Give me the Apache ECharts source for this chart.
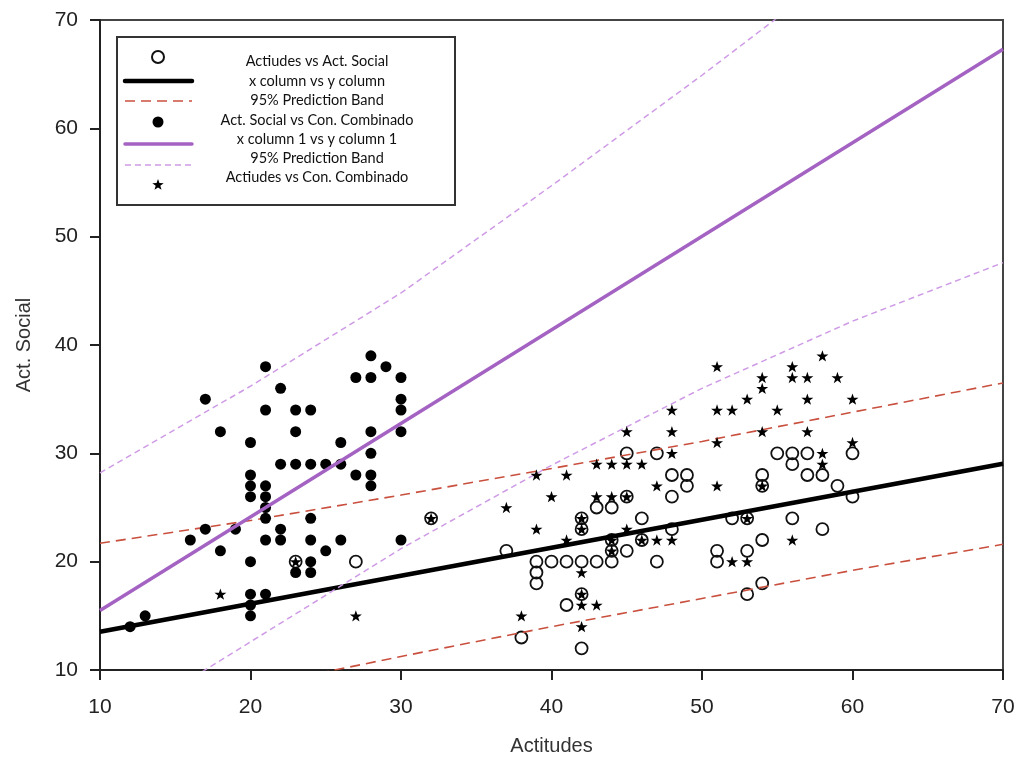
<!DOCTYPE html>
<html>
<head>
<meta charset="utf-8">
<script src="https://cdn.jsdelivr.net/npm/echarts@6/dist/echarts.min.js"></script>
<style>
html,body{margin:0;padding:0;background:#fff;}
#chart{width:1021px;height:761px;}
</style>
</head>
<body>
<div id="chart"></div>
<script>
// ---------- DATA ----------
const xTicks = [10, 20, 30, 40, 50, 60, 70];
const yTicks = [10, 20, 30, 40, 50, 60, 70];

// Actiudes vs Act. Social (open circles)
const openX = [23,27,32,37,38,39,39,39,40,41,41,42,42,42,42,42,43,43,44,44,44,44,45,45,45,46,46,47,47,48,48,48,49,49,51,51,52,53,53,53,54,54,54,54,55,56,56,56,57,57,58,58,59,60,60];
const openY = [20,20,24,21,13,20,19,18,20,20,16,24,23,20,17,12,25,20,25,22,21,20,30,26,21,24,22,30,20,28,26,23,28,27,21,20,24,24,21,17,28,27,22,18,30,30,29,24,30,28,28,23,27,30,26];

// Act. Social vs Con. Combinado (filled circles)
const dotX = [12,13,16,17,17,18,18,19,20,20,20,20,20,20,20,20,21,21,21,21,21,21,21,21,22,22,22,22,23,23,23,23,24,24,24,24,24,24,25,25,26,26,26,27,27,28,28,28,28,28,28,29,30,30,30,30,30];
const dotY = [14,15,22,35,23,32,21,23,31,28,27,26,20,17,16,15,38,34,27,26,25,24,22,17,36,29,23,22,34,32,29,19,34,29,24,22,20,19,29,21,31,29,22,37,28,39,37,32,30,28,27,38,37,35,34,32,22];

// Actiudes vs Con. Combinado (stars)
const starX = [18,27,23,32,37,38,39,39,40,41,41,42,42,42,42,42,42,43,43,43,44,44,44,44,45,45,45,45,46,46,47,47,48,48,48,48,51,51,51,51,52,52,53,53,53,54,54,54,54,55,56,56,56,57,57,57,58,58,58,59,60,60];
const starY = [17,15,20,24,25,15,28,23,26,28,22,24,23,19,17,16,14,29,26,16,29,26,22,21,32,29,26,23,29,22,27,22,34,32,30,22,38,34,31,27,34,20,35,24,20,37,36,32,27,34,38,37,22,37,35,32,39,30,29,37,35,31];

// x column vs y column (regression) and its 95% prediction band
const reg1X = [10, 70];
const reg1Y = [13.53, 29.04];
const bandX = [10, 20, 30, 40, 50, 60, 70];
const redUpper = [21.7, 23.8, 26.15, 28.6, 31.1, 33.8, 36.5];
const redLower = [5.3, 8.4, 11.25, 14.0, 16.6, 19.2, 21.6];

// x column 1 vs y column 1 (regression) and its 95% prediction band
const reg2X = [10, 70];
const reg2Y = [15.5, 67.3];
const purpleUpper = [28.2, 36.2, 44.8, 54.7, 64.9, 75.5, 86.2];
const purpleLower = [4.0, 12.6, 21.2, 28.9, 36.0, 42.2, 47.6];

const legendLabels = [
  'Actiudes vs Act. Social',
  'x column vs y column',
  '95% Prediction Band',
  'Act. Social vs Con. Combinado',
  'x column 1 vs y column 1',
  '95% Prediction Band',
  'Actiudes vs Con. Combinado'
];

// ---------- STYLES ----------
const STAR = 'path://M50,0 L61.8,35.1 L98.1,35.1 L68.8,56.8 L79.4,91.0 L50,70 L20.6,91.0 L31.2,56.8 L1.9,35.1 L38.2,35.1 Z';
const RED = '#c9503e';
const PURPLE = '#a463c2';
const PURPLE_LIGHT = '#cf9be6';
const AXIS = '#222';

const pair = (xs, ys) => xs.map((x, i) => [x, ys[i]]);

function starPoints(cx, cy, R) {
  const pts = [];
  const r = R * 0.4;
  for (let i = 0; i < 10; i++) {
    const a = -Math.PI / 2 + i * Math.PI / 5;
    const rr = i % 2 === 0 ? R : r;
    pts.push([cx + rr * Math.cos(a), cy + rr * Math.sin(a)]);
  }
  return pts;
}

const chart = echarts.init(document.getElementById('chart'));

const LX1 = 125, LX2 = 192, LCX = 158, TCX = 317;
const symRows = [57, 81, 101, 122, 144, 165, 185];
const textRows = [61, 81, 100, 120, 139, 158, 177];

const legendGraphics = [
  { type: 'rect', shape: { x: 117, y: 37, width: 338, height: 168 },
    style: { fill: '#fff', stroke: '#333', lineWidth: 2 }, z: 100 },
  { type: 'circle', shape: { cx: LCX, cy: symRows[0], r: 6 },
    style: { fill: 'none', stroke: '#111', lineWidth: 2 }, z: 101 },
  { type: 'line', shape: { x1: LX1, y1: symRows[1], x2: LX2, y2: symRows[1] },
    style: { stroke: '#000', lineWidth: 4.5, lineCap: 'round' }, z: 101 },
  { type: 'line', shape: { x1: LX1, y1: symRows[2], x2: LX2, y2: symRows[2] },
    style: { stroke: RED, lineWidth: 1.5, lineDash: [10, 6] }, z: 101 },
  { type: 'circle', shape: { cx: LCX, cy: symRows[3], r: 5.5 },
    style: { fill: '#000' }, z: 101 },
  { type: 'line', shape: { x1: LX1, y1: symRows[4], x2: LX2, y2: symRows[4] },
    style: { stroke: PURPLE, lineWidth: 3.5, lineCap: 'round' }, z: 101 },
  { type: 'line', shape: { x1: LX1, y1: symRows[5], x2: LX2, y2: symRows[5] },
    style: { stroke: PURPLE_LIGHT, lineWidth: 1.5, lineDash: [6, 4] }, z: 101 },
  { type: 'polygon', shape: { points: starPoints(LCX, symRows[6], 6) },
    style: { fill: '#000' }, z: 101 }
];
legendLabels.forEach((t, i) => {
  legendGraphics.push({
    type: 'text', x: TCX, y: textRows[i], z: 102,
    style: { text: t, fill: '#111', font: '14.5px Lato', textAlign: 'center', textVerticalAlign: 'middle' }
  });
});

const option = {
  animation: false,
  backgroundColor: '#fff',
  grid: { left: 100, right: 18, top: 20, bottom: 91, show: true, borderColor: '#444', borderWidth: 2, containLabel: false },
  xAxis: {
    type: 'value', min: xTicks[0], max: xTicks[xTicks.length - 1], interval: 10,
    name: 'Actitudes', nameLocation: 'middle', nameGap: 66,
    nameTextStyle: { fontFamily: 'Liberation Sans', fontSize: 20, color: '#333' },
    axisLine: { show: true, lineStyle: { color: AXIS, width: 2 } },
    axisTick: { show: true, length: 10, inside: false, lineStyle: { color: AXIS, width: 2 } },
    axisLabel: { margin: 27, fontFamily: 'Liberation Sans', fontSize: 21, color: '#222',
      formatter: v => (xTicks.indexOf(v) >= 0 ? String(v) : '') },
    splitLine: { show: false }
  },
  yAxis: {
    type: 'value', min: yTicks[0], max: yTicks[yTicks.length - 1], interval: 10,
    name: 'Act. Social', nameLocation: 'middle', nameGap: 66, nameRotate: 90,
    nameTextStyle: { fontFamily: 'Liberation Sans', fontSize: 20, color: '#333' },
    axisLine: { show: true, lineStyle: { color: AXIS, width: 2 } },
    axisTick: { show: true, length: 10, inside: false, lineStyle: { color: AXIS, width: 2 } },
    axisLabel: { margin: 22, fontFamily: 'Liberation Sans', fontSize: 21, color: '#222',
      formatter: v => (yTicks.indexOf(v) >= 0 ? String(v) : '') },
    splitLine: { show: false }
  },
  series: [
    { name: legendLabels[0], type: 'scatter', data: pair(openX, openY), symbol: 'circle', symbolSize: 12,
      itemStyle: { color: 'rgba(0,0,0,0)', borderColor: '#111', borderWidth: 1.8, opacity: 1 }, z: 2 },
    { name: legendLabels[1], type: 'line', data: pair(reg1X, reg1Y), symbol: 'none', clip: true,
      lineStyle: { color: '#000', width: 4.5 }, z: 3 },
    { name: 'redUpper', type: 'line', data: pair(bandX, redUpper), symbol: 'none', clip: true,
      lineStyle: { color: RED, width: 1.6, type: [10, 6] }, z: 3 },
    { name: 'redLower', type: 'line', data: pair(bandX, redLower), symbol: 'none', clip: true,
      lineStyle: { color: RED, width: 1.6, type: [10, 6] }, z: 3 },
    { name: legendLabels[3], type: 'scatter', data: pair(dotX, dotY), symbol: 'circle', symbolSize: 11,
      itemStyle: { color: '#000', opacity: 1 }, z: 4 },
    { name: legendLabels[4], type: 'line', data: pair(reg2X, reg2Y), symbol: 'none', clip: true,
      lineStyle: { color: PURPLE, width: 3.5 }, z: 5 },
    { name: 'purpleUpper', type: 'line', data: pair(bandX, purpleUpper), symbol: 'none', clip: true,
      lineStyle: { color: PURPLE_LIGHT, width: 1.5, type: [6, 4] }, z: 5 },
    { name: 'purpleLower', type: 'line', data: pair(bandX, purpleLower), symbol: 'none', clip: true,
      lineStyle: { color: PURPLE_LIGHT, width: 1.5, type: [6, 4] }, z: 5 },
    { name: legendLabels[6], type: 'scatter', data: pair(starX, starY), symbol: STAR, symbolSize: 12,
      symbolKeepAspect: true, itemStyle: { color: '#000', opacity: 1 }, z: 6 }
  ],
  graphic: legendGraphics
};
chart.setOption(option);
</script>
</body>
</html>
